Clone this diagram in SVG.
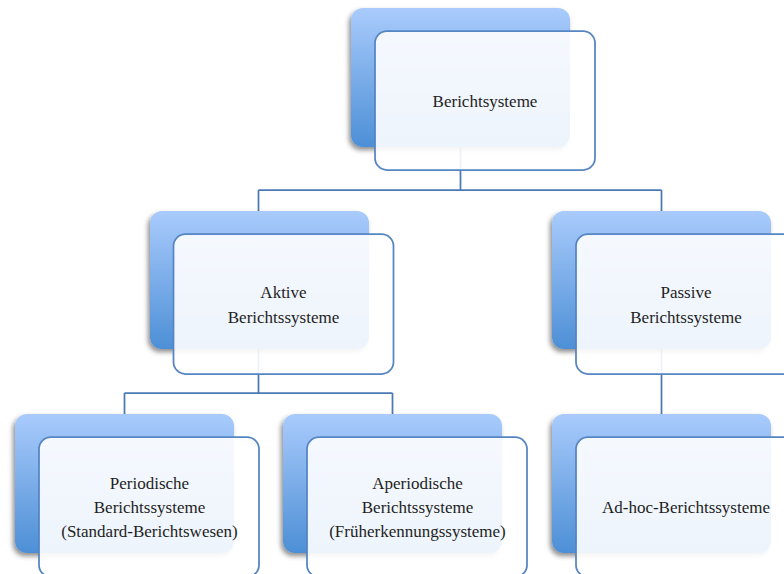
<svg xmlns="http://www.w3.org/2000/svg" width="784" height="574" viewBox="0 0 784 574">
  <defs>
    <linearGradient id="backFill" x1="0" y1="0" x2="0" y2="1">
      <stop offset="0" stop-color="#a9cbfc"/>
      <stop offset="1" stop-color="#4d8fd6"/>
    </linearGradient>
    <filter id="backShadow" x="-10%" y="-10%" width="120%" height="125%">
      <feDropShadow dx="-2" dy="3" stdDeviation="2.5" flood-color="#000" flood-opacity="0.45"/>
    </filter>
  </defs>
  <style>
    .back { fill: url(#backFill); filter: url(#backShadow); }
    .front { fill: #ffffff; fill-opacity: 0.9; stroke: #5585c2; stroke-width: 1.75; }
    .link { fill: none; stroke: #4b79b4; stroke-width: 1.75; }
    .label { font-family: "Liberation Serif", "Times New Roman", serif; font-size: 17px; fill: #1e1e1e; text-anchor: middle; }
  </style>

  <rect width="784" height="574" fill="#ffffff"/>

  <!-- tree connectors, drawn beneath the node cards -->
  <g id="connectors">
    <path class="link" d="M460.5 100 V190 M258.5 190 H661.5 M258.5 190 V240 M661.5 190 V240"/>
    <path class="link" d="M258.5 300 V393 M124.5 393 H392.5 M124.5 393 V440 M392.5 393 V440"/>
    <path class="link" d="M661.5 300 V440"/>
  </g>

  <g id="node-berichtsysteme">
    <rect class="back" x="351" y="8" width="219" height="139" rx="12"/>
    <rect class="front" x="375" y="31" width="220" height="139" rx="12"/>
    <text class="label" x="485" y="107">Berichtsysteme</text>
  </g>

  <g id="node-aktive">
    <rect class="back" x="150" y="211" width="219" height="138" rx="12"/>
    <rect class="front" x="173.5" y="234" width="220" height="140" rx="12"/>
    <text class="label" x="283.5" y="298">Aktive</text>
    <text class="label" x="283.5" y="323">Berichtssysteme</text>
  </g>

  <g id="node-passive">
    <rect class="back" x="552" y="211" width="219" height="138" rx="12"/>
    <rect class="front" x="576" y="234" width="220" height="140" rx="12"/>
    <text class="label" x="686" y="298">Passive</text>
    <text class="label" x="686" y="323">Berichtssysteme</text>
  </g>

  <g id="node-periodische">
    <rect class="back" x="15" y="414" width="219" height="139" rx="12"/>
    <rect class="front" x="39" y="437" width="220" height="140" rx="12"/>
    <text class="label" x="149.5" y="489">Periodische</text>
    <text class="label" x="149.5" y="513">Berichtssysteme</text>
    <text class="label" x="149.5" y="537">(Standard-Berichtswesen)</text>
  </g>

  <g id="node-aperiodische">
    <rect class="back" x="283" y="414" width="219" height="139" rx="12"/>
    <rect class="front" x="307" y="437" width="220" height="140" rx="12"/>
    <text class="label" x="417.5" y="489">Aperiodische</text>
    <text class="label" x="417.5" y="513">Berichtssysteme</text>
    <text class="label" x="417.5" y="537">(Früherkennungssysteme)</text>
  </g>

  <g id="node-adhoc">
    <rect class="back" x="552" y="414" width="219" height="139" rx="12"/>
    <rect class="front" x="576" y="437" width="220" height="140" rx="12"/>
    <text class="label" x="686" y="513">Ad-hoc-Berichtssysteme</text>
  </g>
</svg>
